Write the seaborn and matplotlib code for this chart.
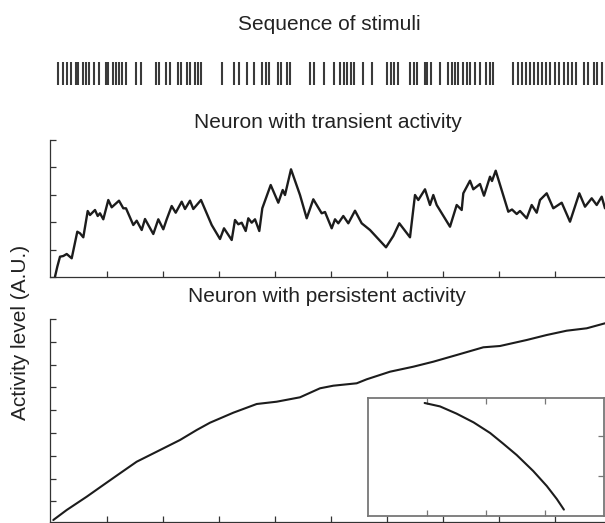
import numpy as np
import matplotlib
matplotlib.use("Agg")
import matplotlib.pyplot as plt
import seaborn as sns

# ---------------- data ----------------
# stimulus onset times (time steps)
stim_times = [7.5, 12.5, 16.5, 21, 25.5, 28, 33, 36, 38.5, 44, 49, 55.5, 58, 63, 66, 69,
              71.5, 75.5, 86, 90.5, 105.5, 109, 116, 119.5, 127.5, 131, 136.5, 139.5,
              144.5, 148, 150.5, 172, 184, 188.5, 197, 204, 212, 215.5, 219, 228, 230.5,
              237, 240, 260, 263.5, 274, 284, 290, 293.5, 297, 300.5, 303.5, 313, 321.5,
              337, 340.5, 344, 347.5, 360, 363.5, 367, 374.5, 377, 381, 389.5, 398, 401.5,
              405, 408, 413, 416.5, 420, 425, 429.5, 436, 439.5, 443, 462.5, 468, 472,
              476, 480, 484, 488, 492, 496, 500, 505, 509, 514, 518, 522, 526, 534, 538,
              544, 547, 552]

# transient neuron trace
trans_t = [5, 7.3, 10, 13.3, 16.7, 21.7, 27.3, 30, 33.3, 37.7, 40, 45, 47.7, 50, 53.3,
           58.3, 61.7, 69, 73.3, 76, 83.3, 86.7, 91.7, 95, 103.3, 108.3, 113.3, 116.7,
           121.7, 125.7, 131.7, 135, 140, 143.3, 151, 161.7, 170, 174, 181.7, 185, 188.3,
           191.7, 195.7, 198.3, 201.7, 205, 209.3, 212.3, 220.7, 228.3, 232.7, 235, 241,
           250, 256.7, 263.3, 271.7, 275, 281.7, 285, 288.3, 293.3, 298.3, 305, 311.7,
           320, 336, 343.3, 349.3, 360, 365, 368.3, 375, 380, 383.3, 386.7, 400, 406.7,
           411.7, 413.3, 420, 423.3, 430, 434, 440, 442, 445.7, 458.3, 462, 466.7, 470,
           476.7, 481.7, 486.7, 490, 496.7, 503.3, 511.7, 520, 529.3, 535, 541.7, 546.7,
           551.7, 555]
trans_v = [0.3, 10.3, 20.3, 21, 23, 18.7, 45.3, 43.7, 39.7, 66, 62, 67, 61, 63.7, 57.7,
           77, 69.7, 76.3, 68.7, 68.7, 52, 56.3, 47, 58, 43, 57.7, 47.7, 57.7,
           71, 64.3, 75.3, 68, 76.3, 68, 77, 52, 38, 48.7, 37, 57, 52.7,
           54.3, 46, 58.7, 54.3, 57.7, 46, 68.7, 92, 74.3, 87, 82, 107.7,
           82, 58.7, 77.7, 63.7, 65, 48.7, 57.7, 53.7, 61, 53.7, 66.3, 53.7,
           47, 29.7, 41, 53.7, 39.7, 82, 77, 87.7, 72, 82, 72, 50.3, 72,
           67, 83.7, 96.3, 87.7, 93, 81.3, 100.3, 96, 106.3, 65.3, 67.5, 63, 66,
           58.7, 72, 64.3, 77, 83.7, 68.7, 74.3, 55.3, 83.7, 70.3, 78.7, 72,
           80.3, 68.7]

# persistent neuron trace
pers_t = [3.3, 16.7, 36.7, 53.3, 70, 86.7, 106.7, 130, 146.7, 160, 183.3, 206.7, 226.7,
          250, 270, 283.3, 306.7, 316.7, 340, 363.3, 383.3, 406.7, 433.3, 450, 476.7,
          496.7, 516.7, 536.7, 555]
pers_v = [2, 12, 25.3, 37, 48.7, 60.3, 70.3, 82, 92, 99.3, 109.3, 118, 120.3,
          124.7, 133.7, 136.3, 138.7, 142.7, 150.3, 155.3, 160.3, 167, 174.7, 176, 182,
          187, 191.3, 193.7, 198.7]

# inset trace
inset_x = [0.96, 1.22, 1.50, 1.79, 2.07, 2.29, 2.52, 2.80, 3.03, 3.20, 3.32]
inset_y = [2.825, 2.74, 2.56, 2.34, 2.075, 1.81, 1.525, 1.125, 0.75, 0.425, 0.16]

title_stim = "Sequence of stimuli"
title_trans = "Neuron with transient activity"
title_pers = "Neuron with persistent activity"
ylabel = "Activity level (A.U.)"

# ---------------- figure ----------------
sns.set_theme(style="ticks")
plt.rcParams["font.family"] = ["Liberation Sans", "DejaVu Sans"]

W, H = 605, 523
fig = plt.figure(figsize=(W / 100, H / 100), dpi=100)
fig.patch.set_facecolor("white")

def rect(l, t, r, b):
    return [l / W, 1 - b / H, (r - l) / W, (b - t) / H]

XMAX = 555
xticks = [56 * k + 1 for k in range(1, 10)]

# stimulus bars
ax_s = fig.add_axes(rect(50, 62, 605, 85))
sns.rugplot(x=stim_times, ax=ax_s, height=1.0, color="#3a3a3a", linewidth=1.5,
            expand_margins=False)
ax_s.set_xlim(0, XMAX)
ax_s.set_ylim(0, 1)
ax_s.axis("off")

def style_axes(ax, yticks):
    for s in ["top", "right"]:
        ax.spines[s].set_visible(False)
    for s in ["left", "bottom"]:
        ax.spines[s].set_color("#333333")
        ax.spines[s].set_linewidth(0.9)
    ax.set_xticks(xticks)
    ax.set_yticks(yticks)
    ax.set_xticklabels([])
    ax.set_yticklabels([])
    ax.tick_params(direction="in", length=4, width=0.9, color="#333333")
    ax.set_xlabel("")
    ax.set_ylabel("")
    ax.set_facecolor("none")

# transient panel
ax_t = fig.add_axes(rect(50, 140, 605, 277))
sns.lineplot(x=trans_t, y=trans_v, ax=ax_t, color="#1c1c1c", linewidth=1.7)
ax_t.set_xlim(0, XMAX)
ax_t.set_ylim(0, 137)
style_axes(ax_t, [27.4 * k for k in range(0, 6)])

# persistent panel
ax_p = fig.add_axes(rect(50, 319, 605, 522))
sns.lineplot(x=pers_t, y=pers_v, ax=ax_p, color="#1c1c1c", linewidth=1.5)
ax_p.set_xlim(0, XMAX)
ax_p.set_ylim(0, 203)
style_axes(ax_p, [203 - 22.8 * k for k in range(0, 9)])

# inset
ax_i = fig.add_axes(rect(368, 398, 604, 516))
sns.lineplot(x=inset_x, y=inset_y, ax=ax_i, color="#1c1c1c", linewidth=1.5)
ax_i.set_xlim(0, 4)
ax_i.set_ylim(0, 2.95)
ax_i.set_facecolor("white")
for s in ax_i.spines.values():
    s.set_visible(True)
    s.set_color("#777777")
    s.set_linewidth(1.3)
ax_i.set_xticks([1, 2, 3])
ax_i.set_yticks([1, 2])
ax_i.set_xticklabels([])
ax_i.set_yticklabels([])
ax_i.tick_params(axis="x", direction="in", length=4, width=0.9, color="#777777",
                 top=True, bottom=True)
ax_i.tick_params(axis="y", direction="in", length=4, width=0.9, color="#777777",
                 left=False, right=True)
ax_i.set_xlabel("")
ax_i.set_ylabel("")

# texts
fig.text(329 / W, 1 - 25 / H, title_stim, ha="center", va="center", fontsize=15,
         color="#222222")
fig.text(327.5 / W, 1 - 123 / H, title_trans, ha="center", va="center", fontsize=15,
         color="#222222")
fig.text(327.5 / W, 1 - 297 / H, title_pers, ha="center", va="center", fontsize=15,
         color="#222222")
fig.text(21 / W, 1 - 332 / H, ylabel, ha="center", va="center", rotation=90,
         fontsize=15, color="#222222")

fig.savefig("out.png", dpi=100, facecolor="white")
